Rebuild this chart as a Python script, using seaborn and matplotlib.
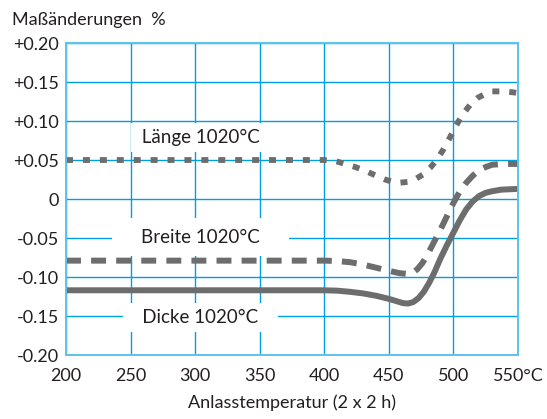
import matplotlib
matplotlib.use('Agg')
import matplotlib.pyplot as plt
import seaborn as sns

laenge_t = [200, 250, 300, 350, 400, 408, 416, 424, 432, 440, 447, 453, 459, 465,
            471, 477, 482, 487, 492, 497, 502, 507, 513, 519, 525, 530, 538, 545, 550]
laenge_v = [0.050, 0.050, 0.050, 0.050, 0.050, 0.049, 0.045, 0.041, 0.036, 0.030,
            0.025, 0.022, 0.021, 0.022, 0.026, 0.032, 0.040, 0.050, 0.063, 0.078,
            0.094, 0.108, 0.121, 0.130, 0.135, 0.138, 0.138, 0.137, 0.136]

breite_t = [200, 250, 300, 350, 400, 410, 420, 430, 440, 450, 458, 464, 468, 472,
            476, 480, 485, 490, 495, 500, 505, 510, 515, 520, 525, 530, 540, 550]
breite_v = [-0.079, -0.079, -0.079, -0.079, -0.079, -0.0795, -0.081, -0.084, -0.088,
            -0.092, -0.095, -0.096, -0.095, -0.090, -0.082, -0.071, -0.055, -0.039,
            -0.022, -0.005, 0.010, 0.021, 0.030, 0.037, 0.041, 0.044, 0.045, 0.045]

dicke_t = [200, 250, 300, 350, 400, 410, 420, 430, 440, 450, 456, 461, 465, 469,
           473, 477, 481, 485, 490, 495, 500, 505, 510, 515, 520, 525, 530, 537, 550]
dicke_v = [-0.117, -0.117, -0.117, -0.117, -0.117, -0.1175, -0.119, -0.121, -0.124,
           -0.128, -0.131, -0.1335, -0.134, -0.132, -0.127, -0.119, -0.108, -0.095,
           -0.076, -0.059, -0.043, -0.027, -0.013, -0.003, 0.004, 0.008, 0.010,
           0.012, 0.013]

x_ticks = [200, 250, 300, 350, 400, 450, 500, 550]
x_labels = ['200', '250', '300', '350', '400', '450', '500', '550°C']
y_ticks = [0.20, 0.15, 0.10, 0.05, 0.0, -0.05, -0.10, -0.15, -0.20]
y_labels = ['+0.20', '+0.15', '+0.10', '+0.05', '0', '-0.05', '-0.10', '-0.15', '-0.20']

sns.set_style('white')
plt.rcParams['font.family'] = ['Lato', 'DejaVu Sans']

text_col = '#231f20'
grid_col = '#009fe0'
line_col = '#6d6d6d'

fig = plt.figure(figsize=(5.47, 4.19), dpi=100)
ax = fig.add_axes([0.1207, 0.1527, 0.8263, 0.7446])

sns.lineplot(x=dicke_t, y=dicke_v, ax=ax, color=line_col, lw=4.3,
             solid_capstyle='butt', solid_joinstyle='round', sort=False)
sns.lineplot(x=breite_t, y=breite_v, ax=ax, color=line_col, lw=4.3,
             linestyle=(0, (2.5, 1.7)), dash_capstyle='butt', sort=False)
sns.lineplot(x=laenge_t, y=laenge_v, ax=ax, color=line_col, lw=4.2,
             linestyle=(0, (1.2, 1.7)), dash_capstyle='butt', sort=False)

ax.set_xlim(200, 550)
ax.set_ylim(-0.20, 0.20)
ax.set_xticks(x_ticks)
ax.set_xticklabels(x_labels)
ax.set_yticks(y_ticks)
ax.set_yticklabels(y_labels)
ax.tick_params(axis='both', length=0, labelsize=13, colors=text_col)
ax.tick_params(axis='x', pad=9)
ax.tick_params(axis='y', pad=5)

ax.set_axisbelow(True)
ax.grid(True, color=grid_col, lw=1.0)
for s in ax.spines.values():
    s.set_color('#5cc2ec')
    s.set_linewidth(1.4)

box = dict(fc='white', ec='none', boxstyle='square,pad=0.3')
ax.text(304, 0.079, ' Länge 1020°C ', ha='center', va='center', fontsize=13.5,
        color=text_col, bbox=box, zorder=1.5)
ax.text(304, -0.049, '    Breite 1020°C    ', ha='center', va='center', fontsize=13.5,
        color=text_col, bbox=dict(fc='white', ec='none', boxstyle='square,pad=0.55'),
        zorder=1.5)
ax.text(304, -0.152, '   Dicke 1020°C   ', ha='center', va='center', fontsize=13.5,
        color=text_col, bbox=box, zorder=1.5)

ax.set_xlabel('Anlasstemperatur (2 x 2 h)', fontsize=13, color=text_col, labelpad=8)
ax.set_ylabel('')
fig.text(0.022, 0.940, 'Maßänderungen  %', fontsize=13, color=text_col, va='baseline')

fig.savefig('out.png', dpi=100)
